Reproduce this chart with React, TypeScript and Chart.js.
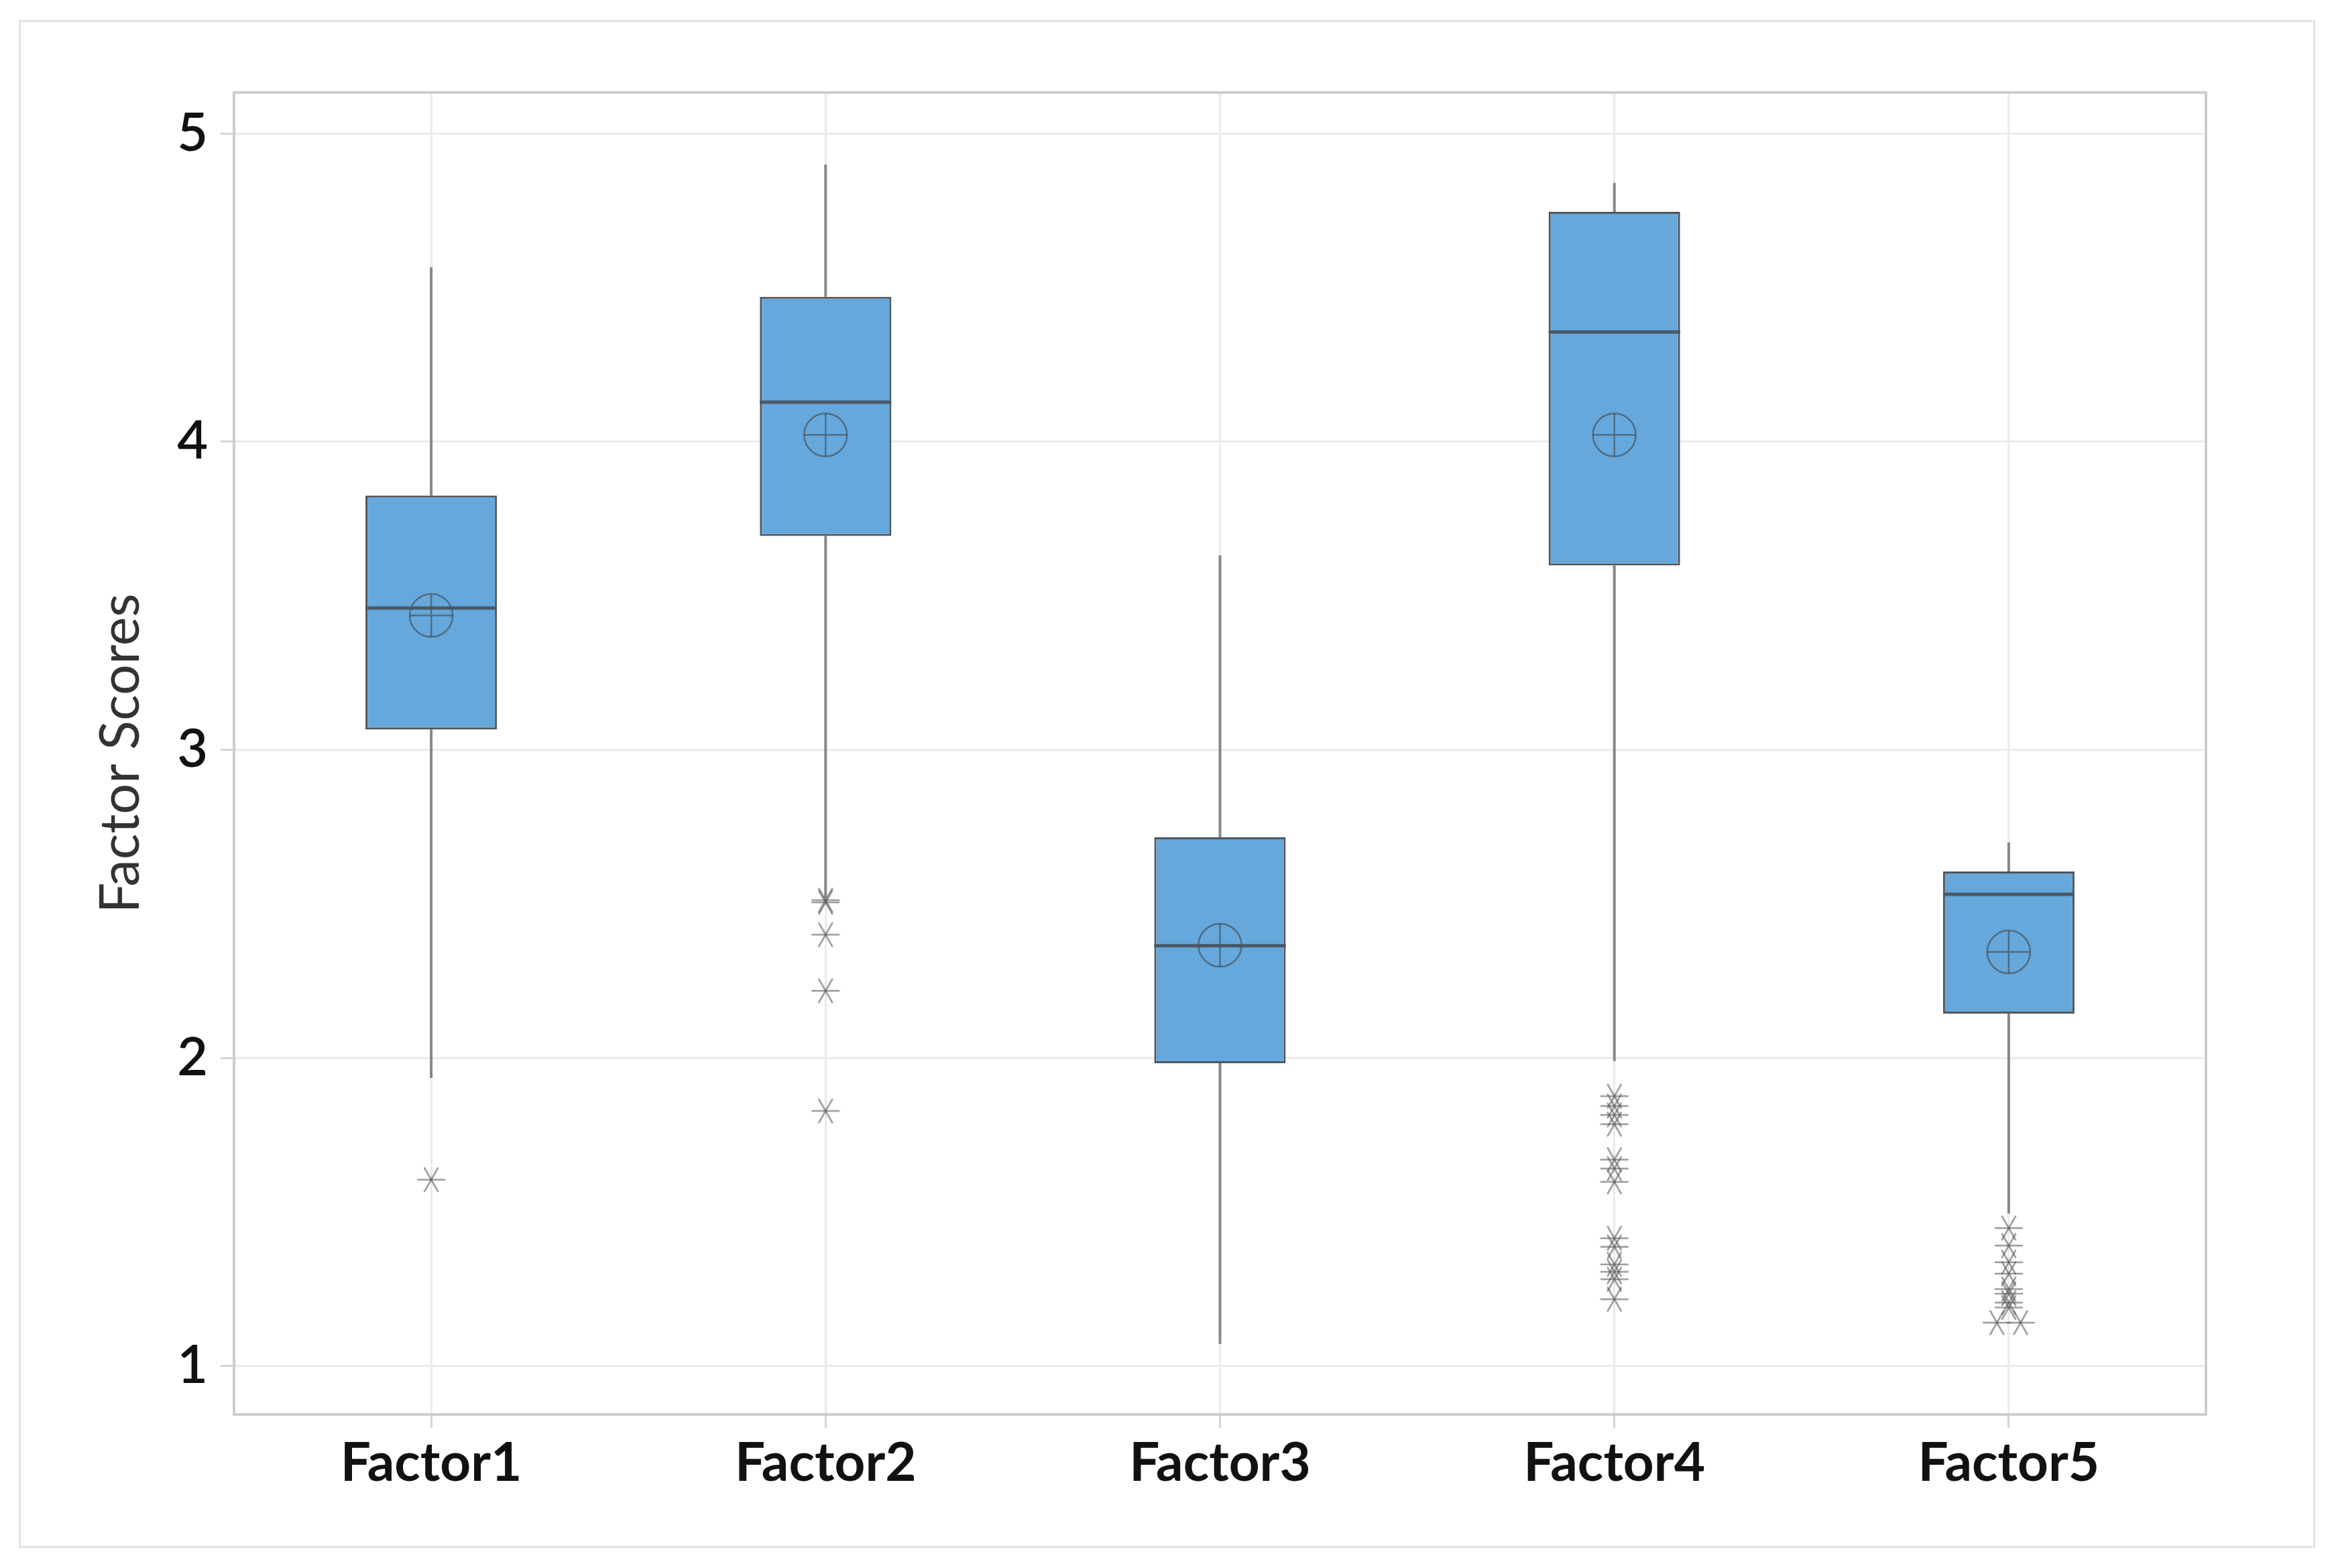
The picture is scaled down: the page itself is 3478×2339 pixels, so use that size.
import React, { useEffect, useRef } from 'react';
import { Chart, registerables } from 'chart.js';

Chart.register(...registerables);

// ---------- data ----------
const CATEGORIES = ['Factor1', 'Factor2', 'Factor3', 'Factor4', 'Factor5'];
const Y_TICKS = [1, 2, 3, 4, 5];
const Y_TITLE = 'Factor Scores';

const Q1 = [3.066, 3.694, 1.983, 3.598, 2.144];
const Q3 = [3.825, 4.47, 2.716, 4.746, 2.605];
const MEDIAN = [3.46, 4.128, 2.364, 4.356, 2.531];
const MEAN = [3.436, 4.022, 2.366, 4.022, 2.344];
const WHISKER_LOW = [1.935, 2.52, 1.072, 1.99, 1.495];
const WHISKER_HIGH = [4.566, 4.899, 3.631, 4.84, 2.7];

const OUTLIERS_F1 = [1.605];
const OUTLIERS_F2 = [2.512, 2.505, 2.4, 2.218, 1.828];
const OUTLIERS_F3: number[] = [];
const OUTLIERS_F4 = [1.876, 1.844, 1.815, 1.785, 1.67, 1.641, 1.598, 1.415, 1.387, 1.33, 1.306, 1.282, 1.217];
const OUTLIERS_F5 = [1.448, 1.391, 1.337, 1.3, 1.25, 1.235, 1.206, 1.19, 1.141, 1.141];
const OUTLIERS = [OUTLIERS_F1, OUTLIERS_F2, OUTLIERS_F3, OUTLIERS_F4, OUTLIERS_F5];

// ---------- layout / style constants ----------
const W = 3478;
const H = 2339;
const BOX_HALF = 1 / 6; // half box width in category units
const TIE_SPREAD = 0.06;
const FONT = 'Lato';

function makeAsterisk(): HTMLCanvasElement {
  const c = document.createElement('canvas');
  c.width = 48;
  c.height = 48;
  const g = c.getContext('2d')!;
  g.strokeStyle = 'rgba(90,90,90,0.62)';
  g.lineWidth = 2.6;
  g.lineCap = 'round';
  const r = 20;
  for (const a of [0, Math.PI / 3, -Math.PI / 3]) {
    g.beginPath();
    g.moveTo(24 - r * Math.cos(a), 24 - r * Math.sin(a));
    g.lineTo(24 + r * Math.cos(a), 24 + r * Math.sin(a));
    g.stroke();
  }
  return c;
}

const framePlugin = {
  id: 'frame',
  beforeDraw(chart: any) {
    const ctx = chart.ctx;
    ctx.save();
    ctx.fillStyle = '#ffffff';
    ctx.fillRect(0, 0, chart.width, chart.height);
    ctx.strokeStyle = '#e4e4e4';
    ctx.lineWidth = 3;
    ctx.strokeRect(29.5, 31.5, 3422, 2276);
    ctx.restore();
  },
  beforeDatasetsDraw(chart: any) {
    const ctx = chart.ctx;
    const { left, top, right, bottom } = chart.chartArea;
    ctx.save();
    ctx.strokeStyle = '#cdcdcd';
    ctx.lineWidth = 4;
    ctx.strokeRect(left, top, right - left, bottom - top);
    ctx.restore();
  },
};

export default function App() {
  const ref = useRef<HTMLCanvasElement | null>(null);

  useEffect(() => {
    if (!ref.current) return;
    const asterisk = makeAsterisk();

    const whiskers: any[] = [];
    const medians: any[] = [];
    CATEGORIES.forEach((_, i) => {
      const x = i + 1;
      whiskers.push({ x, y: Q3[i] }, { x, y: WHISKER_HIGH[i] }, { x, y: null });
      whiskers.push({ x, y: Q1[i] }, { x, y: WHISKER_LOW[i] }, { x, y: null });
      medians.push({ x: x - BOX_HALF, y: MEDIAN[i] }, { x: x + BOX_HALF, y: MEDIAN[i] }, { x, y: null });
    });

    const outlierPoints: any[] = [];
    OUTLIERS.forEach((vals, i) => {
      const counts = new Map<number, number>();
      vals.forEach((v) => counts.set(v, (counts.get(v) || 0) + 1));
      counts.forEach((n, v) => {
        for (let k = 0; k < n; k++) {
          outlierPoints.push({ x: i + 1 + (k - (n - 1) / 2) * TIE_SPREAD, y: v });
        }
      });
    });

    const meanPoints = MEAN.map((m, i) => ({ x: i + 1, y: m }));

    const chart = new Chart(ref.current, {
      type: 'bar',
      data: {
        datasets: [
          {
            type: 'line',
            data: whiskers,
            borderColor: '#878787',
            borderWidth: 4,
            pointRadius: 0,
            spanGaps: false,
            fill: false,
            order: 5,
          } as any,
          {
            type: 'bar',
            data: CATEGORIES.map((_, i) => ({ x: i + 1, y: [Q1[i], Q3[i]] })),
            backgroundColor: '#66a8db',
            borderColor: '#50565c',
            borderWidth: 3,
            borderSkipped: false,
            categoryPercentage: 1,
            barPercentage: BOX_HALF * 2,
            order: 4,
          } as any,
          {
            type: 'line',
            data: medians,
            borderColor: '#4b5866',
            borderWidth: 5,
            pointRadius: 0,
            spanGaps: false,
            fill: false,
            order: 3,
          } as any,
          {
            type: 'scatter',
            data: meanPoints,
            pointStyle: 'circle',
            pointRadius: 32,
            backgroundColor: 'rgba(0,0,0,0)',
            borderColor: 'rgba(70,82,94,0.7)',
            borderWidth: 2.5,
            order: 2,
          } as any,
          {
            type: 'scatter',
            data: meanPoints,
            pointStyle: 'cross',
            pointRadius: 32,
            borderColor: 'rgba(70,82,94,0.7)',
            borderWidth: 2.5,
            order: 2,
          } as any,
          {
            type: 'scatter',
            data: outlierPoints,
            pointStyle: asterisk,
            pointRadius: 20,
            order: 1,
          } as any,
        ],
      },
      options: {
        animation: false,
        responsive: false,
        devicePixelRatio: 1,
        layout: { padding: { left: 0, right: 188, top: 138, bottom: 0 } },
        plugins: { legend: { display: false }, tooltip: { enabled: false } },
        scales: {
          x: {
            type: 'linear',
            min: 0.5,
            max: 5.5,
            offset: false,
            afterBuildTicks: (s: any) => {
              s.ticks = CATEGORIES.map((_, i) => ({ value: i + 1 }));
            },
            afterFit: (s: any) => {
              s.height = 229;
            },
            grid: {
              offset: false,
              color: '#ebebeb',
              lineWidth: 3,
              tickLength: 20,
              tickColor: '#d4d4d4',
              tickWidth: 3,
            },
            border: { display: false },
            ticks: {
              autoSkip: false,
              maxRotation: 0,
              padding: 5,
              color: '#111111',
              font: { family: FONT, size: 80, weight: 'bold' },
              callback: (v: any) => CATEGORIES[Math.round(Number(v)) - 1] ?? '',
            },
          },
          y: {
            type: 'linear',
            min: 0.843,
            max: 5.133,
            afterBuildTicks: (s: any) => {
              s.ticks = Y_TICKS.map((v) => ({ value: v }));
            },
            afterFit: (s: any) => {
              s.width = 349;
            },
            grid: {
              color: '#ebebeb',
              lineWidth: 3,
              tickLength: 20,
              tickColor: '#d4d4d4',
              tickWidth: 3,
            },
            border: { display: false },
            ticks: {
              padding: 19,
              color: '#111111',
              font: { family: FONT, size: 79, weight: '600' },
              callback: (v: any) => String(v),
            },
            title: {
              display: true,
              text: Y_TITLE,
              color: '#333333',
              font: { family: FONT, size: 81, weight: 'normal' },
              padding: { top: 132, bottom: 0 },
            },
          },
        },
      },
      plugins: [framePlugin],
    } as any);

    return () => chart.destroy();
  }, []);

  return (
    <div style={{ position: 'absolute', left: 0, top: 0, width: W, height: H, background: '#fff' }}>
      <canvas ref={ref} width={W} height={H} style={{ display: 'block', width: W, height: H }} />
    </div>
  );
}
